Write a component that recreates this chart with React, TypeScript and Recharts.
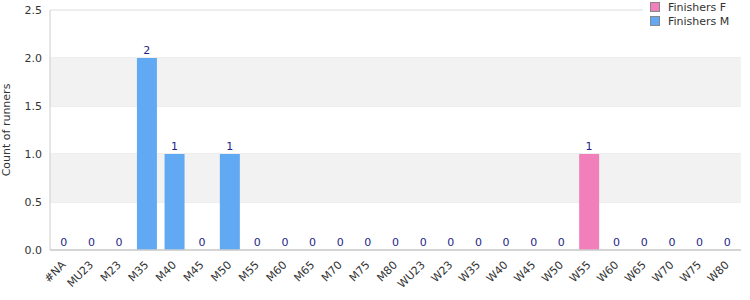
import React from 'react';
import {
  ComposedChart,
  Bar,
  Line,
  XAxis,
  YAxis,
  CartesianGrid,
  Legend,
  LabelList,
  ReferenceArea,
} from 'recharts';

const categories = [
  '#NA', 'MU23', 'M23', 'M35', 'M40', 'M45', 'M50', 'M55', 'M60', 'M65', 'M70', 'M75', 'M80',
  'WU23', 'W23', 'W35', 'W40', 'W45', 'W50', 'W55', 'W60', 'W65', 'W70', 'W75', 'W80',
];
const finishersF = [0, 0, 0, 0, 0, 0, 0, 0, 0, 0, 0, 0, 0, 0, 0, 0, 0, 0, 0, 1, 0, 0, 0, 0, 0];
const finishersM = [0, 0, 0, 2, 1, 0, 1, 0, 0, 0, 0, 0, 0, 0, 0, 0, 0, 0, 0, 0, 0, 0, 0, 0, 0];
const yTicks = [0, 0.5, 1, 1.5, 2, 2.5];

const PINK = '#f17fba';
const BLUE = '#61a9f3';
const TEXT = '#333333';
const FONT = 'DejaVu Sans, sans-serif';

const data = categories.map((c, i) => ({
  name: c,
  f: finishersF[i],
  m: finishersM[i],
  total: finishersF[i] + finishersM[i],
}));

function LegendBox() {
  const items = [
    { label: 'Finishers F', color: PINK },
    { label: 'Finishers M', color: BLUE },
  ];
  return (
    <div style={{ fontFamily: FONT, fontSize: 11, color: TEXT }}>
      {items.map((it, i) => (
        <div
          key={it.label}
          style={{
            display: 'flex',
            alignItems: 'center',
            height: 14,
            background: i === 0 ? '#fff' : 'transparent',
            paddingLeft: 7,
          }}
        >
          <span
            style={{
              display: 'inline-block',
              width: 8,
              height: 8,
              background: it.color,
              border: '1px solid #888',
              marginRight: 8,
            }}
          />
          {it.label}
        </div>
      ))}
    </div>
  );
}

export default function App() {
  return (
    <div style={{ position: 'absolute', left: 0, top: 0, width: 750, height: 300, background: '#fff' }}>
      <ComposedChart
        width={750}
        height={300}
        data={data}
        margin={{ top: 10, right: 9, left: 0, bottom: 0 }}
        barSize={20}
      >
        <ReferenceArea y1={0.5} y2={1} fill="#f2f2f2" fillOpacity={1} stroke="none" />
        <ReferenceArea y1={1.5} y2={2} fill="#f2f2f2" fillOpacity={1} stroke="none" />
        <CartesianGrid vertical={false} stroke="#dddddd" />
        <XAxis
          dataKey="name"
          interval={0}
          angle={-45}
          textAnchor="end"
          height={50}
          tickLine={false}
          axisLine={{ stroke: '#cccccc', strokeWidth: 1.5 }}
          tick={{ fontSize: 11, fill: TEXT, fontFamily: FONT, dx: -3, dy: 2 }}
        />
        <YAxis
          domain={[0, 2.5]}
          ticks={yTicks}
          width={50}
          tickLine={false}
          axisLine={{ stroke: '#cccccc' }}
          tickFormatter={(v: number) => v.toFixed(1)}
          tick={{ fontSize: 11, fill: TEXT, fontFamily: FONT }}
          label={{
            value: 'Count of runners',
            angle: -90,
            position: 'insideLeft',
            offset: 6,
            style: { textAnchor: 'middle', fontSize: 11, fill: TEXT, fontFamily: FONT },
          }}
        />
        <YAxis
          yAxisId="right"
          orientation="right"
          width={0}
          tick={false}
          tickLine={false}
          axisLine={{ stroke: '#cccccc' }}
        />
        <Legend
          layout="horizontal"
          verticalAlign="middle"
          align="center"
          content={<LegendBox />}
          wrapperStyle={{ top: 0, left: 643, width: 102, height: 30 }}
        />
        <Bar dataKey="f" name="Finishers F" stackId="a" fill={PINK} isAnimationActive={false} />
        <Bar dataKey="m" name="Finishers M" stackId="a" fill={BLUE} isAnimationActive={false} />
        <Line
          dataKey="total"
          stroke="none"
          dot={false}
          activeDot={false}
          legendType="none"
          isAnimationActive={false}
        >
          <LabelList
            dataKey="total"
            position="top"
            offset={4}
            fontSize={11}
            fill="#1f1f88"
            fontFamily={FONT}
          />
        </Line>
      </ComposedChart>
    </div>
  );
}
